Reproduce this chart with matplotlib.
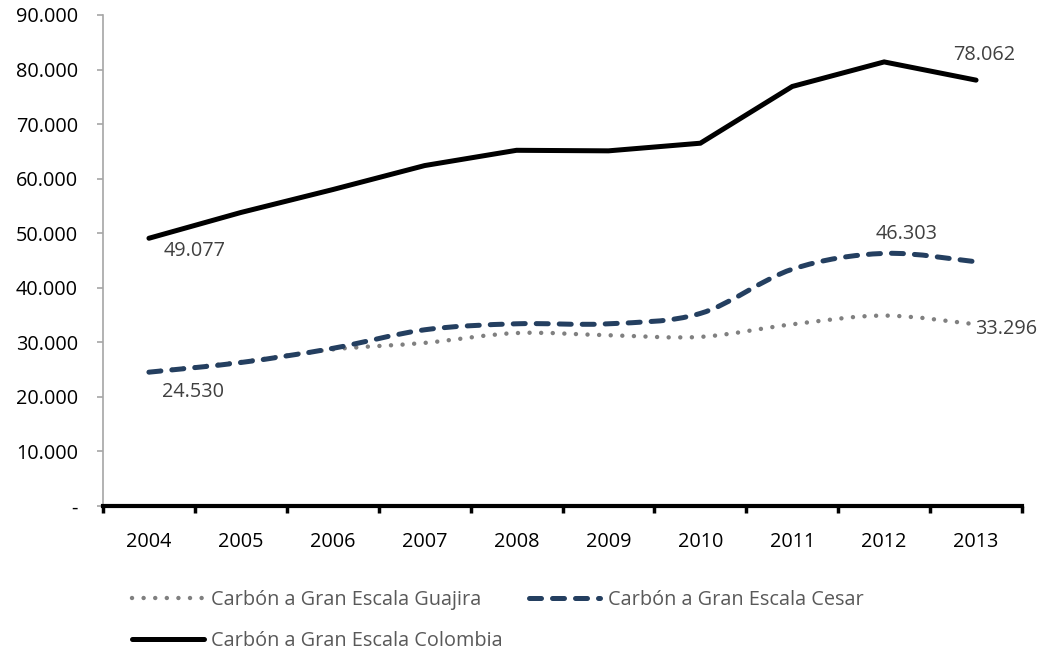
import matplotlib
matplotlib.use("Agg")
import matplotlib.pyplot as plt
from matplotlib.path import Path
from matplotlib.patches import PathPatch
from matplotlib.lines import Line2D
from matplotlib.ticker import FuncFormatter, FixedLocator
import numpy as np

years = ["2004", "2005", "2006", "2007", "2008", "2009", "2010", "2011", "2012", "2013"]
guajira = [24547, 26400, 28700, 29900, 31700, 31300, 31000, 33300, 34900, 33296]
cesar = [24530, 26300, 28900, 32300, 33400, 33400, 35300, 43400, 46303, 44766]
colombia = [49077, 53800, 58000, 62400, 65200, 65100, 66500, 76900, 81400, 78062]
names = ["Carbón a Gran Escala Guajira", "Carbón a Gran Escala Cesar", "Carbón a Gran Escala Colombia"]

plt.rcParams['font.family'] = ['Open Sans', 'DejaVu Sans']

C_GUA = "#808080"
C_CES = "#243F60"
C_COL = "#000000"
FS = 14.3

fig = plt.figure(figsize=(10.43, 6.53), dpi=100)
ax = fig.add_axes([103/1043, 1 - 506/653, (1022 - 103)/1043, (506 - 15)/653])

x = np.arange(len(years))


def smooth_path(xs, ys):
    pts = np.column_stack([xs, ys]).astype(float)
    n = len(pts)
    verts = [pts[0]]
    codes = [Path.MOVETO]
    for i in range(n - 1):
        p0 = pts[i - 1] if i > 0 else pts[i]
        p1 = pts[i]
        p2 = pts[i + 1]
        p3 = pts[i + 2] if i + 2 < n else pts[i + 1]
        c1 = p1 + (p2 - p0) / 6.0
        c2 = p2 - (p3 - p1) / 6.0
        verts += [c1, c2, p2]
        codes += [Path.CURVE4] * 3
    return Path(verts, codes)


gua_patch = PathPatch(smooth_path(x, guajira), facecolor='none', edgecolor=C_GUA,
                      lw=3.2, linestyle=(0, (0.01, 2.6)), capstyle='round', zorder=3)
ax.add_patch(gua_patch)
ces_patch = PathPatch(smooth_path(x, cesar), facecolor='none', edgecolor=C_CES,
                      lw=3.6, linestyle=(0, (2.4, 2.2)), capstyle='round', zorder=4)
ax.add_patch(ces_patch)
ax.plot(x, colombia, color=C_COL, lw=3.6, solid_capstyle='round', solid_joinstyle='miter', zorder=5)

ax.set_xlim(-0.5, len(years) - 0.5)
ax.set_ylim(0, 90000)

# y axis
ax.set_yticks(np.arange(0, 90001, 10000))
ax.yaxis.set_major_formatter(FuncFormatter(lambda v, p: "-" if v == 0 else f"{int(v):,}".replace(",", ".")))
ax.tick_params(axis='y', direction='out', length=4, width=1.2, color="#A6A6A6", pad=14,
               labelsize=FS, labelcolor="#000000")

# x axis: labels at centers, tick marks between categories
ax.set_xticks(x)
ax.set_xticklabels(years)
ax.xaxis.set_minor_locator(FixedLocator(np.arange(-0.5, len(years), 1.0)))
ax.tick_params(axis='x', which='major', length=0, pad=19, labelsize=FS, labelcolor="#000000")
ax.tick_params(axis='x', which='minor', direction='out', length=5, width=2.5, color="#000000")

for s in ['top', 'right']:
    ax.spines[s].set_visible(False)
ax.spines['left'].set_color("#A6A6A6")
ax.spines['left'].set_linewidth(1.2)
ax.spines['bottom'].set_color("#000000")
ax.spines['bottom'].set_linewidth(3.0)

# data labels
lab_kw = dict(fontsize=FS, color="#404040", textcoords='offset points')
ax.annotate("49.077", (x[0], colombia[0]), xytext=(33, -9), ha='center', va='center', **lab_kw)
ax.annotate("24.530", (x[0], cesar[0]), xytext=(32, -14), ha='center', va='center', **lab_kw)
ax.annotate("78.062", (x[-1], colombia[-1]), xytext=(6, 18), ha='center', va='center', **lab_kw)
ax.annotate("46.303", (x[-2], cesar[-2]), xytext=(16, 14), ha='center', va='center', **lab_kw)
ax.annotate("33.296", (x[-1], guajira[-1]), xytext=(-1, -3), ha='left', va='center', **lab_kw)

# legend (column-wise fill: Guajira, Colombia in column 1; Cesar in column 2)
h_gua = Line2D([], [], color=C_GUA, lw=3.2, linestyle=(0, (0.01, 2.6)), dash_capstyle='round')
h_ces = Line2D([], [], color=C_CES, lw=3.6, linestyle=(0, (2.4, 2.2)), dash_capstyle='round')
h_col = Line2D([], [], color=C_COL, lw=3.6, solid_capstyle='round')
leg = fig.legend([h_gua, h_col, h_ces], [names[0], names[2], names[1]], ncol=2, loc='upper left',
                 bbox_to_anchor=(132/1043, 1 - 590/653),
                 frameon=False, fontsize=FS, handlelength=3.6, handletextpad=0.4,
                 columnspacing=1.3, labelspacing=1.05, borderaxespad=0, borderpad=0)
for t in leg.get_texts():
    t.set_color("#595959")

fig.savefig("out.png", dpi=100)
